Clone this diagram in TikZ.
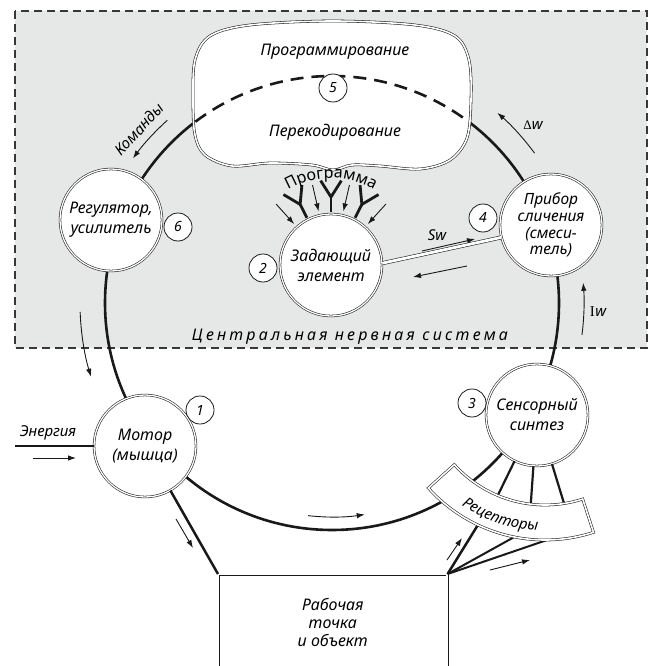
\documentclass[tikz,border=0pt]{standalone}
\usepackage{fontspec}
\setmainfont{Noto Sans}
\newfontfamily\serf{Liberation Serif}
\usetikzlibrary{calc,decorations.text,arrows.meta}
\definecolor{bgg}{RGB}{230,231,231}
\definecolor{dashc}{RGB}{55,55,55}
\definecolor{ink}{RGB}{25,25,25}
\tikzset{
  ringline/.style={draw=ink, line width=2.6pt},
  unit/.style={circle, draw=ink, line width=0.55pt, double=white, double distance=1.3pt,
    fill=white, minimum size=102pt, inner sep=0pt, align=center,
    font=\fontsize{16}{20}\selectfont\itshape},
  numc/.style={circle, draw=ink, line width=0.8pt, fill=white, minimum size=28pt,
    inner sep=0pt, font=\fontsize{14}{14}\selectfont\itshape},
  flow/.style={draw=ink, line width=0.9pt, -{Latex[length=8pt,width=5.5pt]}},
  lbl/.style={font=\fontsize{15}{16}\selectfont\itshape, inner sep=0pt},
  dblline/.style={draw=ink, line width=0.55pt, double=white, double distance=1.6pt},
  thickline/.style={draw=ink, line width=2.5pt},
  yfork/.style={draw=ink, line width=2.8pt},
}
\begin{document}
\begin{tikzpicture}[x=1pt,y=-1pt]
\useasboundingbox (0,0) rectangle (649,666);
% central nervous system area
\fill[bgg] (15,11) rectangle (647,348);
\draw[dashc, line width=1.6pt, dash pattern=on 8pt off 5pt] (15,11) rectangle (647,348);
\node[font=\fontsize{16}{16}\selectfont\itshape\addfontfeatures{LetterSpace=20}, inner sep=0pt]
  (cns) at (350,337) {Центральная нервная система};

% main ring
\coordinate (O) at (332,303);
\draw[ringline] (O) circle[radius=227];

% cloud (programming / recoding)
\draw[dblline, fill=white] plot[smooth cycle, tension=0.55] coordinates
  {(193,100) (195,60) (210,36) (250,25) (333,21) (415,25) (455,36) (469,60)
   (471,100) (467,138) (450,160) (420,169) (380,166) (352,165) (333,170) (312,165)
   (270,163) (232,166) (205,155) (195,135)};
\coordinate (cloud) at (333,95);
\draw[draw=ink, line width=2.6pt, dash pattern=on 13pt off 8pt]
  ($(O)+(233:227)$) arc[start angle=233, end angle=306, radius=227];
\node[font=\fontsize{16}{16}\selectfont\itshape, inner sep=0pt] (prog) at (335,52) {Программирование};
\node[font=\fontsize{16}{16}\selectfont\itshape, inner sep=0pt] (perek) at (335,132) {Перекодирование};

% units
\node[unit] (reg) at (111,220) {Регулятор,\\усилитель};
\node[unit] (mot) at (145,446) {Мотор\\(мышца)};
\node[unit] (zad) at (331,265) {Задающий\\элемент};
\node[unit] (sen) at (537,415) {Сенсорный\\синтез};
\node[unit, font=\fontsize{15.5}{16.7}\selectfont\itshape] (pri) at (551,225) {Прибор\\сличения\\(смеси-\\тель)};
\node[draw=ink, line width=0.55pt, double=white, double distance=1.6pt, fill=white,
  minimum width=229pt, minimum height=96pt, anchor=north west, align=center,
  font=\fontsize{16}{18}\selectfont\itshape] (box) at (218,574) {Рабочая\\точка\\и объект};

% numbers
\node[numc] (n1) at (200,410) {1};
\node[numc] (n2) at (263,268) {2};
\node[numc] (n3) at (472,403) {3};
\node[numc] (n4) at (483,218) {4};
\node[numc] (n5) at (333,88) {5};
\node[numc] (n6) at (178,227) {6};

% programme inputs
\foreach \a in {243,270,297} {
  \draw[yfork] ($(zad)+(\a:53)$) -- ($(zad)+(\a:68)$);
  \draw[yfork, line join=miter] ($(zad)+(\a-7:85)$) -- ($(zad)+(\a:68)$) -- ($(zad)+(\a+7:85)$);
}
\foreach \a in {228,257,283,312}
  \draw[flow] ($(zad)+(\a:82)$) -- ($(zad)+(\a:55)$);
\path[decorate, decoration={text along path, text align=center,
  text={|\fontsize{16}{16}\selectfont|Программа}}]
  ($(zad)+(232:87)$) arc[start angle=232, end angle=308, radius=87];

% comparison link
\draw[dblline, double distance=2.8pt] (zad.2) -- (pri.194);
\draw[flow] (422,251) -- (475,239);
\draw[flow] (467,266) -- (413,277);
\node[lbl] (sw) at (437,235) {Sw};

% motor, energy, object
\draw[thickline] (15,446) -- (mot.west);
\node[lbl] (en) at (48,433) {Энергия};
\draw[flow] (33,458) -- (76,458);
\draw[thickline] (mot) -- (box.north west);
\draw[flow] (176,519) -- (193,548);

% receptors
\coordinate (R0) at (545,383);
\foreach \a in {116,94,73}
  \draw[draw=ink, line width=2.2pt] (sen) -- ($(sen)+(\a:100)$);
\draw[thickline] (box.north east) -- ($(R0)+(115:150)$);
\draw[draw=ink, line width=2pt] (box.north east) -- ($(R0)+(98:150)$);
\draw[draw=ink, line width=2pt] (box.north east) -- ($(R0)+(77:150)$);
\draw[dblline, fill=white] ($(R0)+(138:157)$) arc[start angle=138, end angle=72, radius=157]
  -- ($(R0)+(72:122)$) arc[start angle=72, end angle=138, radius=122] -- cycle;
\path[decorate, decoration={text along path, text align=center,
  text={|\fontsize{15}{15}\selectfont\itshape|Рецепторы}}]
  ($(R0)+(140:148)$) arc[start angle=140, end angle=77, radius=148];
\draw[flow] (447,560) -- (462,538);
\draw[flow] (490,570) -- (530,560);

% ring flow arrows
\draw[flow] ($(O)+(228:246)$) arc[start angle=228, end angle=216, radius=246];
\node[lbl, rotate=47] (kom) at ($(O)+(222:260)$) {Команды};
\draw[flow] ($(O)+(178:252)$) arc[start angle=178, end angle=163, radius=252];
\draw[flow] ($(O)+(96.4:214)$) arc[start angle=96.4, end angle=81.2, radius=214];
\draw[flow] ($(O)+(7.3:252)$) arc[start angle=7.3, end angle=-4.6, radius=252];
\node[lbl] (iw) at (598,312) {{\serf\upshape I}\kern0.5pt w};
\draw[flow] ($(O)+(-36.5:252)$) arc[start angle=-36.5, end angle=-49, radius=252];
\node[lbl] (dw) at (533,125) {{\serf\upshape\fontsize{13}{13}\selectfont Δ}w};
\end{tikzpicture}
\end{document}
